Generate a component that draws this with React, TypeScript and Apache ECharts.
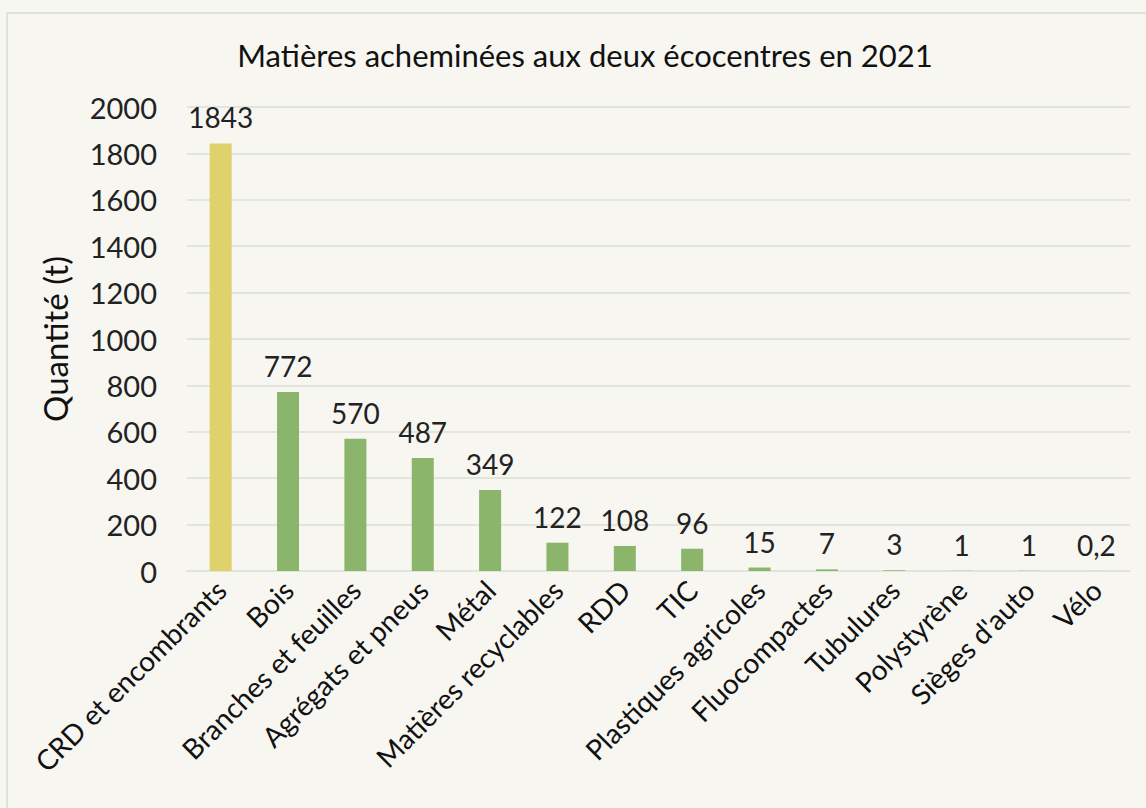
import React, { useEffect, useRef } from "react";
import * as echarts from "echarts";

const categories = [
  "CRD et encombrants",
  "Bois",
  "Branches et feuilles",
  "Agrégats et pneus",
  "Métal",
  "Matières recyclables",
  "RDD",
  "TIC",
  "Plastiques agricoles",
  "Fluocompactes",
  "Tubulures",
  "Polystyrène",
  "Sièges d'auto",
  "Vélo",
];
const values = [1843, 772, 570, 487, 349, 122, 108, 96, 15, 7, 3, 1, 1, 0.2];
const yTicks = [0, 200, 400, 600, 800, 1000, 1200, 1400, 1600, 1800, 2000];
const title = "Matières acheminées aux deux écocentres en 2021";
const yName = "Quantité (t)";

const FONT = "Lato";
const YELLOW = "#e0d26a";
const GREEN = "#8ab56a";
const GRIDC = "#e0e6d9";
const BG = "#f7f6f1";

export default function App() {
  const ref = useRef<HTMLDivElement>(null);
  useEffect(() => {
    document.body.style.margin = "0";
    const chart = echarts.init(ref.current!, null, { renderer: "svg" });
    chart.setOption({
      animation: false,
      backgroundColor: BG,
      textStyle: { fontFamily: FONT },
      title: {
        text: title,
        left: 580,
        textAlign: "center",
        top: 34,
        textStyle: { fontFamily: FONT, fontSize: 31, fontWeight: "normal", color: "#111" },
      },
      graphic: [
        {
          type: "rect",
          shape: { x: 7, y: 13, width: 1300, height: 1000 },
          style: { fill: "none", stroke: "#dde5d5", lineWidth: 2 },
          silent: true,
        },
      ],
      grid: { left: 187, right: 16, top: 107, bottom: 237, containLabel: false },
      xAxis: {
        type: "category",
        data: categories,
        axisLine: { show: true, lineStyle: { color: GRIDC, width: 2 } },
        axisTick: { show: false },
        axisLabel: {
          interval: 0,
          rotate: 45,
          margin: 14,
          fontSize: 28,
          fontFamily: FONT,
          color: "#111",
        },
      },
      yAxis: {
        type: "value",
        min: yTicks[0],
        max: yTicks[yTicks.length - 1],
        interval: yTicks[1] - yTicks[0],
        name: yName,
        nameLocation: "middle",
        nameGap: 116,
        nameTextStyle: { fontSize: 33, fontFamily: FONT, color: "#111" },
        axisLine: { show: false },
        axisTick: { show: false },
        axisLabel: {
          fontSize: 29,
          fontFamily: FONT,
          color: "#222",
          margin: 30,
          formatter: (v: number) => String(v),
        },
        splitLine: { lineStyle: { color: GRIDC, width: 2 } },
      },
      series: [
        {
          type: "bar",
          data: values.map((v, i) => ({
            value: v,
            itemStyle: { color: i === 0 ? YELLOW : GREEN },
          })),
          barWidth: 22,
          label: {
            show: true,
            position: "top",
            distance: 12,
            fontSize: 28,
            fontFamily: FONT,
            color: "#222",
            formatter: (p: any) => String(p.value).replace(".", ","),
          },
        },
      ],
    });
    return () => chart.dispose();
  }, []);
  return (
    <div
      ref={ref}
      style={{ position: "fixed", left: 0, top: 0, width: 1146, height: 808 }}
    />
  );
}
